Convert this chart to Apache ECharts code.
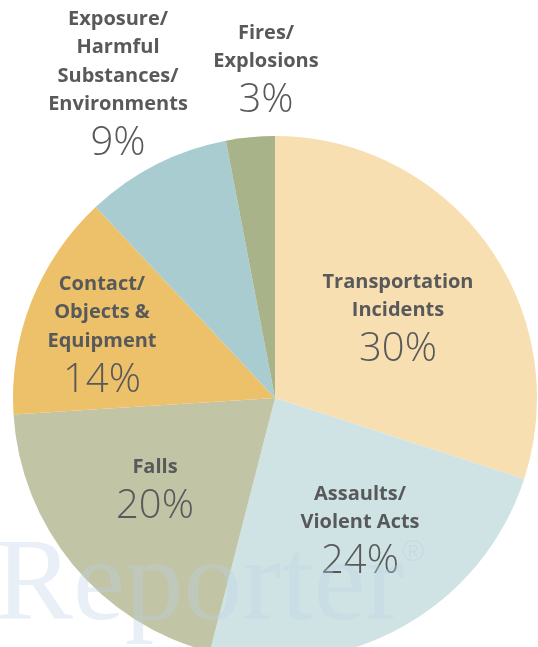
<!DOCTYPE html>
<html>
<head>
<meta charset="utf-8">
<script src="https://cdn.jsdelivr.net/npm/echarts@6/dist/echarts.min.js"></script>
<style>
  html, body { margin: 0; padding: 0; background: #fff; }
  #pie { width: 538px; height: 647px; }
</style>
</head>
<body>
<div id="pie"></div>
<script>
// 数据
var categories = ['Transportation\nIncidents', 'Assaults/\nViolent Acts', 'Falls',
  'Contact/\nObjects &\nEquipment', 'Exposure/\nHarmful\nSubstances/\nEnvironments', 'Fires/\nExplosions'];
var shares = [30, 24, 20, 14, 9, 3];
var colors = ['#F7DFB2', '#CFE3E4', '#C1C4A5', '#EDC06A', '#A8CCD0', '#A9B38A'];
// 标签位置 (中心x, 顶部y)
var labelPos = [[398, 268], [360, 480], [155, 453], [102, 270], [118, 5], [266, 19]];

var chart = echarts.init(document.getElementById('pie'));
var option = {
    animation: false,
    series: [
        {
            type: 'pie',
            center: [275, 398],
            radius: 262,
            startAngle: 90,
            clockwise: true,
            silent: true,
            label: {
                show: true,
                position: 'inside',
                formatter: function (p) {
                    var lines = p.name.split('\n').map(function (s) { return '{n|' + s + '}'; });
                    return lines.join('\n') + '\n{p|' + p.value + '%}';
                },
                rich: {
                    n: { fontFamily: 'Open Sans', fontWeight: 'bold', fontSize: 20, color: '#58595b', lineHeight: 28.5, align: 'center' },
                    p: { fontFamily: 'Open Sans', fontWeight: 300, fontSize: 40, color: '#58595b', lineHeight: 50, align: 'center' }
                }
            },
            labelLine: { show: false },
            labelLayout: function (params) {
                var pos = labelPos[params.dataIndex];
                return { x: pos[0], y: pos[1], align: 'center', verticalAlign: 'top' };
            },
            data: categories.map(function (c, i) {
                return { name: c, value: shares[i], itemStyle: { color: colors[i] } };
            })
        }
    ],
    graphic: [
        {
            type: 'text', left: -5, top: 530, z: 100, silent: true,
            style: { text: 'Reporter', fontFamily: 'Liberation Serif', fontSize: 117, fill: 'rgba(190, 208, 230, 0.35)' }
        },
        {
            type: 'text', left: 402, top: 538, z: 100, silent: true,
            style: { text: '®', fontFamily: 'Liberation Sans', fontSize: 30, fill: 'rgba(190, 208, 230, 0.45)' }
        }
    ]
};
chart.setOption(option);
</script>
</body>
</html>
